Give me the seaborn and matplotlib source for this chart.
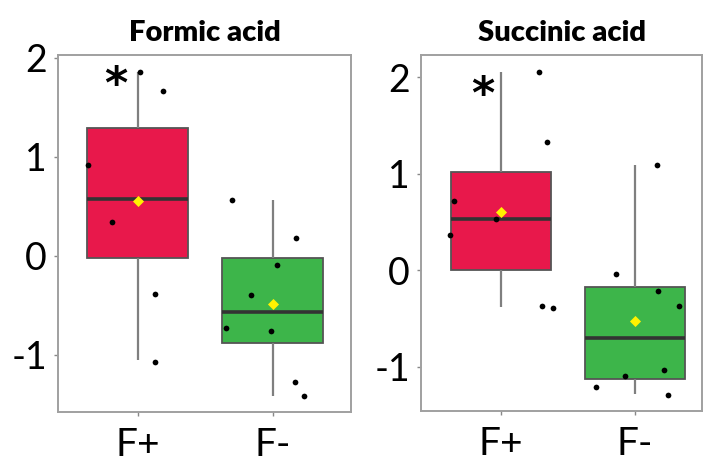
import matplotlib
matplotlib.use("Agg")
import matplotlib.pyplot as plt
import numpy as np
import pandas as pd
import seaborn as sns

# groups and panels
groups = ["F+", "F-"]
panel_titles = ["Formic acid", "Succinic acid"]

# five-number summaries: whisker low, Q1, median, Q3, whisker high
formic_fplus_box = [-1.05, -0.02, 0.57, 1.29, 1.86]
formic_fminus_box = [-1.42, -0.885, -0.566, -0.02, 0.56]
succinic_fplus_box = [-0.38, 0.0, 0.53, 1.02, 2.05]
succinic_fminus_box = [-1.28, -1.13, -0.70, -0.17, 1.09]

# individual samples and their horizontal jitter
formic_fplus_pts = [1.86, 1.67, 0.92, 0.34, -0.39, -1.07]
formic_fplus_jit = [0.015, 0.187, -0.365, -0.193, 0.128, 0.128]
formic_fminus_pts = [0.56, 0.176, -0.09, -0.40, -0.73, -0.76, -1.28, -1.42]
formic_fminus_jit = [-0.30, 0.17, 0.035, -0.158, -0.343, -0.015, 0.163, 0.232]
succinic_fplus_pts = [2.055, 1.33, 0.72, 0.535, 0.366, -0.373, -0.394]
succinic_fplus_jit = [0.287, 0.345, -0.35, -0.04, -0.387, 0.305, 0.39]
succinic_fminus_pts = [1.09, -0.04, -0.22, -0.37, -1.036, -1.10, -1.215, -1.295]
succinic_fminus_jit = [0.17, -0.14, 0.175, 0.33, 0.22, -0.07, -0.287, 0.25]

# significance marker (x offset from F+, y value)
star_pos = [(-0.16, 1.72), (-0.14, 1.81)]

sns.set_theme(style="white")
plt.rcParams["font.family"] = ["Lato", "DejaVu Sans"]
plt.rcParams["text.color"] = "black"
plt.rcParams["xtick.labelcolor"] = "black"
plt.rcParams["ytick.labelcolor"] = "black"

box_colors = {"F+": "#E8184B", "F-": "#3DB54A"}
frame_color = "#a0a0a0"

panels = [
    (formic_fplus_box, formic_fminus_box,
     [(formic_fplus_pts, formic_fplus_jit), (formic_fminus_pts, formic_fminus_jit)]),
    (succinic_fplus_box, succinic_fminus_box,
     [(succinic_fplus_pts, succinic_fplus_jit), (succinic_fminus_pts, succinic_fminus_jit)]),
]
axes_rects = [[0.0825, 0.1159, 0.4168, 0.7661], [0.599, 0.118, 0.3996, 0.764]]
xlims = [(-0.59, 1.58), (-0.60, 1.505)]
ylims = [(-1.58, 2.03), (-1.46, 2.23)]

fig = plt.figure(figsize=(7.03, 4.66), dpi=100)

for i, (box_a, box_b, samples) in enumerate(panels):
    ax = fig.add_axes(axes_rects[i])
    df = pd.DataFrame({
        "group": [groups[0]] * len(box_a) + [groups[1]] * len(box_b),
        "value": box_a + box_b,
    })
    sns.boxplot(
        data=df, x="group", y="value", hue="group", order=groups,
        palette=box_colors, width=0.75, showfliers=False, legend=False, ax=ax,
        boxprops=dict(edgecolor="#555555", linewidth=1.3),
        whiskerprops=dict(color="#7f7f7f", linewidth=1.6),
        capprops=dict(linewidth=0),
        medianprops=dict(color="#333333", linewidth=2.6),
        saturation=1,
    )
    for k, (pts, jit) in enumerate(samples):
        ax.scatter(k + np.array(jit), pts, s=17, color="black", zorder=4, linewidths=0)
        ax.scatter([k], [np.mean(pts)], s=32, marker="D", color="#FFF200",
                   zorder=5, linewidths=0)
    sx, sy = star_pos[i]
    ax.text(sx, sy, "*", fontsize=32, fontweight="bold", ha="center", va="center",
            family=["DejaVu Sans"], color="black")

    ax.set_xlim(*xlims[i])
    ax.set_ylim(*ylims[i])
    ax.set_yticks([-1, 0, 1, 2])
    ax.set_yticklabels(["-1", "0", "1", "2"])
    ax.set_xlabel("")
    ax.set_ylabel("")
    ax.set_title(panel_titles[i], fontsize=21, fontweight="heavy", pad=10, color="black")
    ax.tick_params(axis="y", labelsize=27, length=3, width=1, color="#888888", pad=5, left=True)
    ax.tick_params(axis="x", labelsize=28, length=3, width=1, color="#888888", pad=8, bottom=True)
    for sp in ax.spines.values():
        sp.set_color(frame_color)
        sp.set_linewidth(1.4)

fig.savefig("out.png", dpi=100)
